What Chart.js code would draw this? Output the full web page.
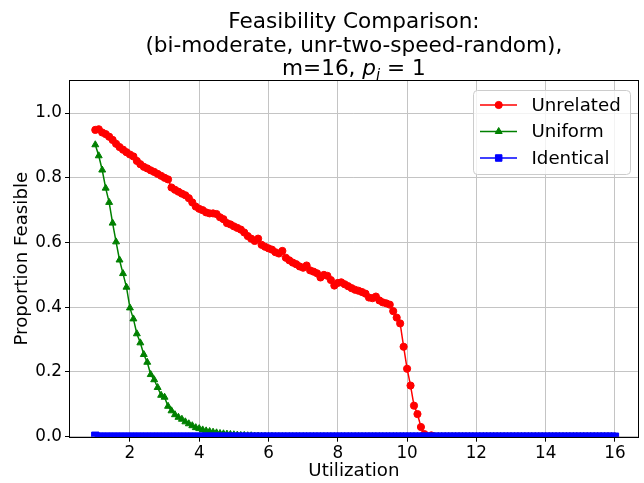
<!DOCTYPE html>
<html>
<head>
<meta charset="utf-8">
<script src="https://cdn.jsdelivr.net/npm/chart.js@4.4.0/dist/chart.umd.min.js"></script>
<style>
  html, body { margin: 0; padding: 0; background: #fff; }
  #wrap { width: 644px; height: 483px; }
</style>
</head>
<body>
<div id="wrap"><canvas id="myChart" width="644" height="483"></canvas></div>
<script>
const utilization = [
  1.0, 1.1, 1.2, 1.3, 1.4, 1.5, 1.6, 1.7, 1.8, 1.9,
  2.0, 2.1, 2.2, 2.3, 2.4, 2.5, 2.6, 2.7, 2.8, 2.9,
  3.0, 3.1, 3.2, 3.3, 3.4, 3.5, 3.6, 3.7, 3.8, 3.9,
  4.0, 4.1, 4.2, 4.3, 4.4, 4.5, 4.6, 4.7, 4.8, 4.9,
  5.0, 5.1, 5.2, 5.3, 5.4, 5.5, 5.6, 5.7, 5.8, 5.9,
  6.0, 6.1, 6.2, 6.3, 6.4, 6.5, 6.6, 6.7, 6.8, 6.9,
  7.0, 7.1, 7.2, 7.3, 7.4, 7.5, 7.6, 7.7, 7.8, 7.9,
  8.0, 8.1, 8.2, 8.3, 8.4, 8.5, 8.6, 8.7, 8.8, 8.9,
  9.0, 9.1, 9.2, 9.3, 9.4, 9.5, 9.6, 9.7, 9.8, 9.9,
  10.0, 10.1, 10.2, 10.3, 10.4, 10.5, 10.6, 10.7, 10.8, 10.9,
  11.0, 11.1, 11.2, 11.3, 11.4, 11.5, 11.6, 11.7, 11.8, 11.9,
  12.0, 12.1, 12.2, 12.3, 12.4, 12.5, 12.6, 12.7, 12.8, 12.9,
  13.0, 13.1, 13.2, 13.3, 13.4, 13.5, 13.6, 13.7, 13.8, 13.9,
  14.0, 14.1, 14.2, 14.3, 14.4, 14.5, 14.6, 14.7, 14.8, 14.9,
  15.0, 15.1, 15.2, 15.3, 15.4, 15.5, 15.6, 15.7, 15.8, 15.9,
  16.0
];

const unrelated = [
  0.948, 0.950, 0.940, 0.935, 0.927, 0.917, 0.905, 0.895, 0.887, 0.879,
  0.872, 0.866, 0.852, 0.842, 0.834, 0.829, 0.823, 0.818, 0.812, 0.806,
  0.800, 0.795, 0.770, 0.763, 0.757, 0.751, 0.746, 0.737, 0.724, 0.711,
  0.704, 0.700, 0.693, 0.690, 0.690, 0.688, 0.678, 0.672, 0.660, 0.656,
  0.650, 0.645, 0.640, 0.631, 0.620, 0.612, 0.605, 0.612, 0.593, 0.587,
  0.582, 0.578, 0.570, 0.566, 0.574, 0.553, 0.545, 0.538, 0.533, 0.526,
  0.522, 0.529, 0.514, 0.510, 0.505, 0.492, 0.500, 0.497, 0.484, 0.467,
  0.475, 0.477, 0.471, 0.465, 0.459, 0.454, 0.451, 0.447, 0.442, 0.430,
  0.428, 0.433, 0.421, 0.415, 0.412, 0.408, 0.388, 0.368, 0.350, 0.278,
  0.210, 0.158, 0.096, 0.070, 0.030, 0.008, 0.000, 0.004, 0, 0,
  0, 0, 0, 0, 0, 0, 0, 0, 0, 0,
  0, 0, 0, 0, 0, 0, 0, 0, 0, 0,
  0, 0, 0, 0, 0, 0, 0, 0, 0, 0,
  0, 0, 0, 0, 0, 0, 0, 0, 0, 0,
  0, 0, 0, 0, 0, 0, 0, 0, 0, 0,
  0
];

const uniform = [
  0.902, 0.868, 0.824, 0.768, 0.724, 0.660, 0.602, 0.546, 0.504, 0.462,
  0.398, 0.364, 0.318, 0.290, 0.254, 0.230, 0.192, 0.176, 0.152, 0.128,
  0.122, 0.094, 0.080, 0.068, 0.060, 0.054, 0.046, 0.040, 0.034, 0.028,
  0.025, 0.021, 0.018, 0.016, 0.014, 0.012, 0.010, 0.009, 0.008, 0.007,
  0.006, 0.005, 0.004, 0.004, 0.003, 0.003, 0.002, 0.002, 0.001, 0.001,
  0.001, 0.001, 0, 0, 0, 0, 0, 0, 0, 0,
  0, 0, 0, 0, 0, 0, 0, 0, 0, 0,
  0, 0, 0, 0, 0, 0, 0, 0, 0, 0,
  0, 0, 0, 0, 0, 0, 0, 0, 0, 0,
  0, 0, 0, 0, 0, 0, 0, 0, 0, 0,
  0, 0, 0, 0, 0, 0, 0, 0, 0, 0,
  0, 0, 0, 0, 0, 0, 0, 0, 0, 0,
  0, 0, 0, 0, 0, 0, 0, 0, 0, 0,
  0, 0, 0, 0, 0, 0, 0, 0, 0, 0,
  0, 0, 0, 0, 0, 0, 0, 0, 0, 0,
  0
];

const identical = [
  0.003, 0, 0, 0, 0, 0, 0, 0, 0, 0,
  0, 0, 0, 0, 0, 0, 0, 0, 0, 0,
  0, 0, 0, 0, 0, 0, 0, 0, 0, 0,
  0, 0, 0, 0, 0, 0, 0, 0, 0, 0,
  0, 0, 0, 0, 0, 0, 0, 0, 0, 0,
  0, 0, 0, 0, 0, 0, 0, 0, 0, 0,
  0, 0, 0, 0, 0, 0, 0, 0, 0, 0,
  0, 0, 0, 0, 0, 0, 0, 0, 0, 0,
  0, 0, 0, 0, 0, 0, 0, 0, 0, 0,
  0, 0, 0, 0, 0, 0, 0, 0, 0, 0,
  0, 0, 0, 0, 0, 0, 0, 0, 0, 0,
  0, 0, 0, 0, 0, 0, 0, 0, 0, 0,
  0, 0, 0, 0, 0, 0, 0, 0, 0, 0,
  0, 0, 0, 0, 0, 0, 0, 0, 0, 0,
  0, 0, 0, 0, 0, 0, 0, 0, 0, 0,
  0
];

const xTicks = [2, 4, 6, 8, 10, 12, 14, 16];
const yTicks = [0.0, 0.2, 0.4, 0.6, 0.8, 1.0];

const titleLines = ['Feasibility Comparison:', '(bi-moderate, unr-two-speed-random),'];
const xLabel = 'Utilization';
const yLabel = 'Proportion Feasible';

const FONT = '"DejaVu Sans", sans-serif';
Chart.defaults.font.family = FONT;
Chart.defaults.color = '#000';

const pts = ys => utilization.map((x, i) => ({ x: x, y: ys[i] }));

function marker(ctx, style, x, y, r) {
  ctx.beginPath();
  if (style === 'circle') {
    ctx.arc(x, y, r, 0, Math.PI * 2);
  } else if (style === 'triangle') {
    for (let k = 0; k < 3; k++) {
      const a = k * 2 * Math.PI / 3;
      const px = x + Math.sin(a) * r, py = y - Math.cos(a) * r;
      if (k === 0) ctx.moveTo(px, py); else ctx.lineTo(px, py);
    }
    ctx.closePath();
  } else {
    const s = Math.SQRT1_2 * r;
    ctx.rect(x - s, y - s, 2 * s, 2 * s);
  }
  ctx.fill();
  ctx.stroke();
}

const decor = {
  id: 'decor',
  afterDraw(chart) {
    const { ctx, chartArea: a } = chart;
    ctx.save();

    // frame
    ctx.strokeStyle = '#000';
    ctx.lineWidth = 1;
    ctx.strokeRect(Math.round(a.left) - 0.5, Math.round(a.top) - 0.5,
      Math.round(a.right) - Math.round(a.left) + 1, Math.round(a.bottom) - Math.round(a.top) + 1);

    const cx = (a.left + a.right) / 2;

    // title
    ctx.fillStyle = '#000';
    ctx.textAlign = 'center';
    ctx.textBaseline = 'alphabetic';
    ctx.font = '21.6px ' + FONT;
    ctx.fillText(titleLines[0], cx, 27.5);
    ctx.fillText(titleLines[1], cx, 51.5);

    // third line: m=16, p_i = 1
    const reg = '21.6px ' + FONT;
    const ital = 'oblique 21.6px ' + FONT;
    const sub = 'oblique 15px ' + FONT;
    const parts = [
      { t: 'm=16, ', f: reg, dy: 0 },
      { t: 'p', f: ital, dy: 0 },
      { t: 'i', f: sub, dy: 4.5 },
      { t: ' = 1', f: reg, dy: 0 }
    ];
    let total = 0;
    parts.forEach(p => { ctx.font = p.f; p.w = ctx.measureText(p.t).width; total += p.w; });
    let x0 = cx - total / 2;
    ctx.textAlign = 'left';
    parts.forEach(p => { ctx.font = p.f; ctx.fillText(p.t, x0, 75 + p.dy); x0 += p.w; });

    // axis labels
    ctx.font = '18.2px ' + FONT;
    ctx.textAlign = 'center';
    ctx.fillText(xLabel, cx, 476);
    ctx.save();
    ctx.translate(27, (a.top + a.bottom) / 2);
    ctx.rotate(-Math.PI / 2);
    ctx.fillText(yLabel, 0, 0);
    ctx.restore();

    // legend
    const lx = 473.5, ly = 90.5, lw = 157, lh = 84;
    ctx.beginPath();
    ctx.roundRect(lx, ly, lw, lh, 4);
    ctx.fillStyle = 'rgba(255,255,255,0.8)';
    ctx.fill();
    ctx.strokeStyle = '#cccccc';
    ctx.lineWidth = 1;
    ctx.stroke();

    ctx.font = '18.2px ' + FONT;
    ctx.textAlign = 'left';
    ctx.textBaseline = 'middle';
    chart.data.datasets.forEach((ds, i) => {
      const y = 105 + i * 26.5;
      ctx.strokeStyle = ds.borderColor;
      ctx.fillStyle = ds.borderColor;
      ctx.lineWidth = 1.5;
      ctx.beginPath();
      ctx.moveTo(480, y);
      ctx.lineTo(517, y);
      ctx.stroke();
      ctx.lineWidth = 1;
      marker(ctx, ds.pointStyle, 498.7, y, ds.pointStyle === 'rect' ? 4.6 : ds.pointRadius);
      ctx.fillStyle = '#000';
      ctx.fillText(ds.label, 531.5, y + 1);
    });

    ctx.restore();
  }
};

const ctx = document.getElementById('myChart').getContext('2d');

const chart = new Chart(ctx, {
  type: 'line',
  data: {
    datasets: [{
      label: 'Unrelated',
      data: pts(unrelated),
      borderColor: '#ff0000',
      backgroundColor: '#ff0000',
      pointStyle: 'circle',
      pointRadius: 3.6,
      pointBorderWidth: 1,
      borderWidth: 1.5,
      order: 3,
      clip: 0
    }, {
      label: 'Uniform',
      data: pts(uniform),
      borderColor: '#008000',
      backgroundColor: '#008000',
      pointStyle: 'triangle',
      pointRadius: 4,
      pointBorderWidth: 1,
      borderWidth: 1.5,
      order: 2,
      clip: 0
    }, {
      label: 'Identical',
      data: pts(identical),
      borderColor: '#0000ff',
      backgroundColor: '#0000ff',
      pointStyle: 'rect',
      pointRadius: 5.2,
      pointBorderWidth: 1,
      borderWidth: 3,
      order: 1,
      clip: 0
    }]
  },
  options: {
    responsive: false,
    animation: false,
    events: [],
    layout: { padding: { top: 80.7, right: 6, left: 0, bottom: 0 } },
    plugins: {
      legend: { display: false },
      title: { display: false },
      tooltip: { enabled: false }
    },
    elements: { line: { tension: 0 } },
    scales: {
      x: {
        type: 'linear',
        min: 0.27,
        max: 16.66,
        afterBuildTicks: s => { s.ticks = xTicks.map(v => ({ value: v })); },
        afterFit: s => { s.height = 46.3; },
        border: { display: false },
        grid: { color: '#c4c4c4', lineWidth: 1, drawTicks: true, tickLength: 5, tickColor: '#000', tickWidth: 1 },
        ticks: { font: { size: 16.8 }, color: '#000', padding: 2, maxRotation: 0, autoSkip: false,
          callback: v => String(v) }
      },
      y: {
        type: 'linear',
        min: 0,
        max: 1.1,
        afterBuildTicks: s => { s.ticks = yTicks.map(v => ({ value: v })); },
        afterFit: s => { s.width = 70; },
        border: { display: false },
        grid: { color: '#c4c4c4', lineWidth: 1, drawTicks: true, tickLength: 5, tickColor: '#000', tickWidth: 1 },
        ticks: { font: { size: 16.8 }, color: '#000', padding: 3,
          callback: v => v.toFixed(1) }
      }
    }
  },
  plugins: [decor]
});
</script>
</body>
</html>
